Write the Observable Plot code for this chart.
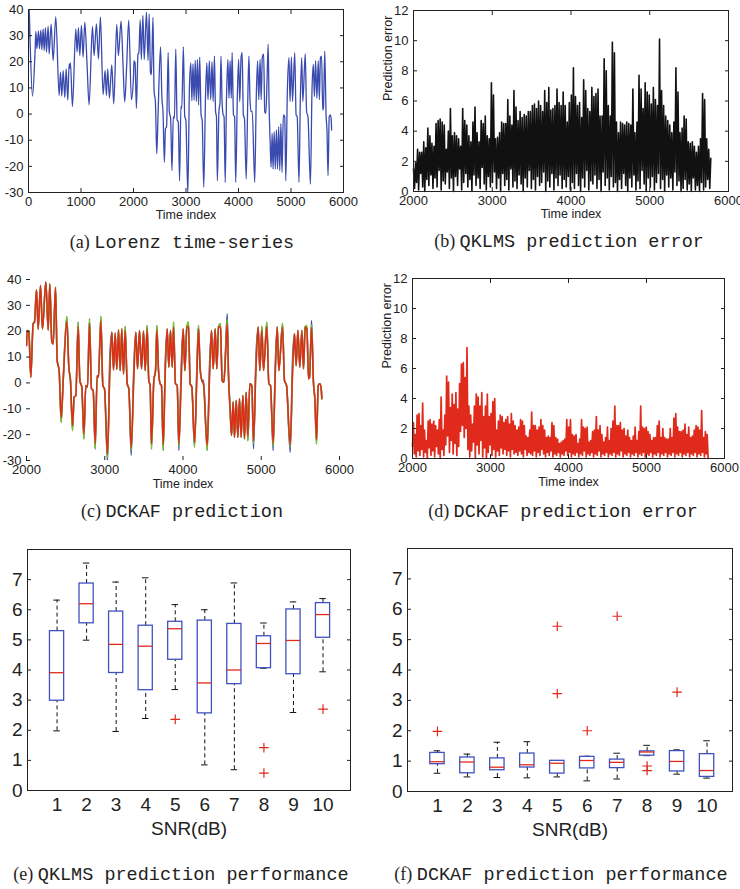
<!DOCTYPE html>
<html>
<head>
<meta charset="utf-8">
<script src="https://cdn.jsdelivr.net/npm/d3@7"></script>
<script src="https://cdn.jsdelivr.net/npm/@observablehq/plot@0.6"></script>
<style>
  html, body { margin: 0; padding: 0; background: #fff; }
  body { position: relative; width: 740px; height: 889px; overflow: hidden; font-family: "Liberation Sans", Arial, sans-serif; }
  .cap { position: absolute; white-space: nowrap; transform: translate(-50%, -50%); color: #222; line-height: 1; }
  .cap .s { font-family: "Liberation Serif", "Times New Roman", serif; font-size: 18px; }
  .cap .m { font-family: "Liberation Mono", "Courier New", monospace; font-size: 18.5px; }
</style>
</head>
<body>
<script>
// ---------- (a)/(c) Lorenz series, part before t = 2000 ----------
const lorT0 = [0,12,30,76,127,140,159,190,209,235,254,279,298,323,342,374,393,431,469,520,583,609,634,660,691,717,748,774,786,799,837,901,926,951,977,1008,1040,1072,1116,1154,1218,1249,1294,1332,1370,1421,1459,1484,1509,1541,1586,1624,1681,1712,1763,1801,1833,1870,1909,1960];
const lorV0 = [29,41,28,6.9,25,31.6,25,31.8,25,32.1,24.7,32.6,24.3,33.1,23.7,33.6,23,34.4,20.5,37.3,7.1,16,6.9,16.7,6.3,17.3,5.4,19.2,17.5,19.6,2.9,32.6,23.7,33.1,22.4,33.9,21.8,35.2,18.6,3.5,33.5,22.4,34.5,21.1,37.1,7.4,16.7,7.1,17.3,6.1,18.8,3.9,34.3,22.4,35.5,18.6,4.6,18.6,35.9,5.5];

// ---------- t >= 2000: actual (blue), second predictor (green), DCKAF (red) ----------
const cT = [2000,2009,2030,2055,2085,2102,2128,2149,2179,2204,2247,2277,2298,2324,2341,2371,2392,2417,2443,2469,2515,2541,2562,2588,2609,2630,2660,2682,2707,2733,2758,2780,2805,2831,2852,2878,2903,2920,2950,2976,2997,3035,3065,3091,3112,3133,3154,3176,3197,3218,3240,3261,3287,3308,3338,3372,3397,3419,3444,3470,3495,3517,3542,3563,3580,3597,3627,3649,3666,3687,3708,3725,3747,3772,3798,3819,3840,3862,3879,3904,3926,3947,3977,4002,4024,4049,4070,4092,4113,4147,4177,4198,4219,4241,4262,4309,4339,4364,4386,4411,4432,4454,4479,4500,4522,4543,4565,4582,4603,4620,4641,4658,4680,4701,4722,4743,4765,4786,4807,4829,4854,4880,4901,4931,4961,4982,5008,5029,5071,5097,5118,5152,5178,5204,5225,5272,5297,5323,5370,5400,5425,5446,5468,5493,5519,5540,5561,5583,5604,5617,5643,5668,5685,5706,5728,5749,5766,5774];
const cBlue = [14.5,20.3,19.6,2.2,22.9,23.5,36,20.9,37.7,20.9,39,20.5,38.3,15.8,15.1,37,8.7,4.8,-15.2,0.9,25.7,6.1,0.9,-18.4,-5.5,-4.9,23.5,0.9,-1.6,-21.6,-1,-1.6,24.8,-2.3,-2.9,-25.5,2.9,2.2,25.7,-1,-2.3,-30.5,10,19.6,5.1,19.2,5.3,20.5,4.8,20.9,3.5,21.8,-0.3,-2.3,-28,7,19.6,5.5,20.3,5.5,20,4.8,22.2,0.9,-1,-25.5,0.9,4.8,22.2,4.8,-0.3,-1,-26.1,6.5,20.9,6.1,20.3,6.1,23.5,-0.3,-1,-26.1,6,20.9,4.8,21.6,23.5,-0.3,-1.6,-24.8,6,22.2,5.5,0.9,1,-26.1,7,20.3,5.5,20.9,5.5,21.8,22.9,0.9,0.3,12.5,26.7,4,-10.7,-20.3,-7.4,-21,-6.8,-21,-6.1,-21,-4.9,-21.6,-3.6,-22.3,-0.3,-1,-25.5,9,21.6,4.8,21.8,4.8,23.5,-0.3,-1,-26.1,6,21.6,4.8,23.1,0.9,-1,-26.8,9,19,6.7,20.3,6.1,20.3,5.5,21.6,22.2,1.6,2.2,24.1,-0.3,-6.1,-23.5,-1,-0.3,-2.3,-6.1];
const cGreen = [14.5,20.3,19.6,2.2,22.9,23.5,36,20.9,37.7,20.9,39,20.5,38.3,15.8,15.1,37,8.7,4.8,-15.2,0.9,25.7,6.1,0.9,-18.4,-5.5,-4.9,23.5,0.9,-1.6,-21.6,-1,-1.6,24.8,-2.3,-2.9,-25.5,2.9,2.2,25.7,-1,-2.3,-29,5,19.6,5.1,19.2,5.3,20.5,4.8,20.9,3.5,21.8,-0.3,-2.3,-26,3,19.6,5.5,20.3,5.5,20,4.8,22.2,0.9,-1,-25.5,0.9,4.8,22.2,4.8,-0.3,-1,-26.1,3.5,20.9,6.1,20.3,6.1,23.5,-0.3,-1,-24.5,2,20.9,4.8,21.6,23.5,-0.3,-1.6,-24.8,3,22.2,5.5,0.9,-0.3,-26.1,3,20.3,5.5,20.9,5.5,21.8,22.9,0.9,0.3,11,24.5,2.2,-10.7,-20.3,-7.4,-21,-6.8,-21,-6.1,-21,-4.9,-21.6,-3.6,-22.3,-0.3,-1,-23.5,5,21.6,4.8,21.8,4.8,23.5,-0.3,-1,-24.5,3,21.6,4.8,23.1,0.9,-1,-25,4.5,19,6.7,20.3,6.1,20.3,5.5,21.6,22.2,1.6,2.2,22.5,-0.3,-6.1,-23.5,-1,-0.3,-2.3,-6.1];
const cRed = [14.5,20.3,19.6,2.2,22.9,23.5,36,20.9,37.7,20.9,39,20.5,38.3,15.8,15.1,37,8.7,4.8,-13.5,0.9,23.8,6.1,0.9,-16.5,-5.5,-4.9,21.8,0.9,-1.6,-19.8,-1,-1.6,23,-2.3,-2.9,-23.5,2.9,2.2,24,-1,-2.3,-27.5,4,19.6,5.1,19.2,5.3,20.5,4.8,20.9,3.5,20.3,-0.3,-2.3,-25,2,19.6,5.5,20.3,5.5,20,4.8,20.8,0.9,-1,-23.5,0.9,4.8,20.5,4.8,-0.3,-1,-24,3,20.9,6.1,20.3,6.1,21.5,-0.3,-1,-23.5,1,20.9,4.8,21.6,21.8,-0.3,-1.6,-23,2,20.8,5.5,0.9,-0.5,-24.2,2,20.3,5.5,20.9,5.5,21.8,21.5,0.9,0.3,10,23,1.5,-10.7,-20.3,-7.4,-21,-6.8,-21,-6.1,-21,-4.9,-21.6,-3.6,-20.8,-0.3,-1,-22.5,4,21.6,4.8,20.5,4.8,21.8,-0.3,-1,-23.5,2,21.6,4.8,21.5,0.9,-1,-24,3.5,19,6.7,20.3,6.1,20.3,5.5,21.6,20.8,1.6,2.2,21.5,-0.3,-6.1,-21.8,-1,-0.3,-2.3,-6.1];

// ---------- (b) QKLMS prediction error: alternating spikes / troughs from t = 2000 to 5775 ----------
const bStart = 2000, bEnd = 5775;
const bErr = [1.5,0.2,1.9,0.6,2.8,0.1,2.6,1.2,2.6,0.3,3.3,0.0,2.9,0.8,4.2,0.4,3.7,1.1,3.2,0.2,3.0,0.9,4.5,0.3,4.7,1.4,4.8,0.1,4.6,0.7,4.4,0.5,2.8,1.3,4.0,0.2,5.5,0.9,3.7,0.0,3.9,1.0,3.7,0.4,3.5,1.5,3.0,0.1,5.5,0.6,4.7,1.2,4.4,0.3,3.7,0.8,3.3,0.0,4.6,1.1,5.6,0.4,3.9,0.9,3.3,0.2,4.7,1.6,4.5,0.5,5.0,0.1,3.7,1.0,3.5,0.3,7.2,0.6,6.4,1.3,3.5,0.2,3.6,0.9,3.9,0.0,4.6,1.2,4.5,0.4,4.5,0.8,6.1,0.1,5.0,1.5,4.4,0.3,6.7,0.7,5.6,0.2,4.7,1.1,5.3,0.5,4.9,0.0,5.1,0.9,5.0,0.3,5.3,1.4,5.3,0.2,5.7,0.8,5.8,0.1,5.5,1.0,6.0,0.4,5.7,0.6,5.3,1.3,6.7,0.0,5.9,0.7,6.9,0.3,5.4,1.2,5.5,0.1,5.7,0.9,6.8,0.4,5.9,1.1,5.7,0.2,6.6,0.8,
5.7,0.3,4.6,1.0,5.9,0.1,6.4,0.6,8.2,0.2,6.3,1.2,5.7,0.4,5.9,0.0,4.9,0.9,7.4,0.3,6.7,1.4,5.5,0.1,5.3,0.7,6.9,0.5,6.3,1.1,6.5,0.2,6.8,0.8,5.0,0.0,5.0,1.3,8.8,0.4,8.0,0.9,5.7,0.1,5.0,1.0,9.9,0.3,9.2,0.6,4.6,0.0,3.9,0.8,4.6,0.2,4.5,1.2,4.4,0.4,4.6,0.0,4.5,0.9,4.4,0.3,6.8,1.1,3.9,0.1,4.6,0.7,7.7,0.2,6.8,1.4,5.5,0.5,7.2,0.0,6.6,0.9,6.4,0.3,5.8,1.0,6.9,0.1,6.1,0.6,5.7,1.2,10.1,0.2,6.7,0.8,5.7,0.0,5.0,1.1,4.7,0.3,4.4,0.9,3.9,0.1,4.6,1.3,8.2,0.4,6.6,0.7,3.9,0.0,4.2,0.2,5.0,0.8,4.8,0.1,3.3,0.5,3.2,0.0,3.3,0.9,3.0,0.1,2.6,0.4,3.0,0.0,3.5,0.6,6.5,0.1,6.1,0.3,3.5,0.8,2.8,0.2,2.2];

// ---------- (d) DCKAF prediction error ----------
const dStart = 2000, dEnd = 5790;
const dErr = [0.8,2.4,0.3,1.6,0.1,2.9,0.5,3.0,0.2,2.2,0.6,3.7,0.1,1.9,0.4,1.2,0.0,2.5,0.7,2.6,0.2,2.3,0.5,2.5,0.1,2.2,0.8,1.9,0.3,2.6,0.0,4.1,0.6,1.9,0.2,2.9,0.9,5.5,1.5,5.1,0.4,3.4,1.2,4.3,0.3,3.6,1.0,4.4,0.2,3.3,0.8,5.0,1.8,6.3,2.2,6.4,1.4,5.4,2.0,7.4,0.6,3.5,0.1,2.9,0.5,2.3,1.1,3.5,0.0,4.3,0.9,4.1,0.3,3.5,1.2,4.4,0.1,2.8,0.7,3.5,0.0,4.3,0.4,2.8,0.9,3.0,0.2,3.8,0.6,4.0,0.1,1.9,0.5,2.5,0.2,2.9,0.7,2.8,0.3,2.4,0.6,2.6,0.2,2.8,0.5,2.3,0.1,3.0,0.6,2.5,0.3,2.2,0.4,1.9,0.2,2.1,0.5,2.6,0.3,2.5,0.1,2.2,0.6,1.5,0.2,1.4,0.4,1.9,0.3,3.1,0.2,2.2,0.5,2.2,0.1,1.9,0.4,2.1,0.2,2.6,0.6,2.2,0.3,1.9,0.1,1.4,0.4,1.5,0.2,1.4,0.5,2.4,0.1,2.2,0.3,1.4,0.2,1.3,0.4,1.0,0.1,1.1,0.3,1.2,0.2,1.3,0.5,2.6,
0.2,2.1,0.4,2.6,0.1,1.6,0.3,1.5,0.2,1.6,0.4,1.0,0.1,1.3,0.3,2.6,0.2,2.1,0.5,2.0,0.1,2.1,0.3,1.1,0.2,1.2,0.4,1.8,0.1,1.9,0.3,2.8,0.2,1.9,0.5,2.2,0.1,1.6,0.3,1.1,0.2,1.4,0.4,2.1,0.1,1.2,0.3,2.0,0.2,2.5,0.4,3.5,0.1,2.2,0.3,2.2,0.2,2.4,0.5,1.9,0.1,2.0,0.3,1.5,0.2,1.9,0.4,1.4,0.1,1.2,0.3,1.5,0.2,2.1,0.4,1.2,0.1,1.8,0.3,3.5,0.2,2.1,0.4,2.0,0.1,2.1,0.3,1.8,0.2,1.6,0.4,1.2,0.1,1.4,0.3,1.4,0.2,2.2,0.4,2.5,0.1,1.4,0.3,2.0,0.2,1.4,0.4,1.3,0.1,1.3,0.3,2.0,0.2,1.4,0.4,2.7,0.1,3.0,0.3,2.1,0.2,1.8,0.4,1.8,0.1,1.9,0.3,2.3,0.2,1.6,0.4,2.1,0.1,1.4,0.3,1.5,0.2,1.9,0.4,2.2,0.1,2.1,0.3,1.9,0.2,3.2,0.4,1.4,0.1,1.8,0.3,1.6,0.0];

// ---------- (e) QKLMS box statistics per SNR ----------
const snr = [1,2,3,4,5,6,7,8,9,10];
const qLow  = [1.98,4.99,1.96,2.39,3.35,0.85,0.69,4.06,2.59,3.94];
const qQ1   = [2.98,5.55,3.90,3.33,4.34,2.56,3.53,4.06,3.86,5.07];
const qMed  = [3.91,6.20,4.85,4.79,5.37,3.57,4.00,4.88,4.98,5.84];
const qQ3   = [5.29,6.87,5.94,5.47,5.60,5.64,5.53,5.12,6.01,6.22];
const qHigh = [6.32,7.55,6.92,7.06,6.17,6.00,6.89,5.56,6.26,6.37];
const qOutSnr = [5,8,8,10];
const qOutVal = [2.36,1.42,0.58,2.70];

// ---------- (f) DCKAF box statistics per SNR ----------
const dLow  = [0.60,0.48,0.46,0.45,0.48,0.35,0.41,1.18,0.57,0.44];
const dQ1   = [0.90,0.60,0.70,0.79,0.59,0.76,0.77,1.18,0.66,0.48];
const dMed  = [0.98,0.97,0.80,0.88,0.93,1.02,0.96,1.30,0.99,0.69];
const dQ3   = [1.27,1.12,1.09,1.25,1.01,1.14,1.05,1.32,1.33,1.23];
const dHigh = [1.34,1.23,1.62,1.64,1.01,1.16,1.26,1.52,1.37,1.67];
const dOutSnr = [1,5,5,6,7,8,8,9];
const dOutVal = [1.98,5.44,3.22,2.00,5.77,0.84,0.69,3.27];

// ---------- tick values ----------
const ticksA_X = [0,1000,2000,3000,4000,5000,6000];
const ticksTS_X = [2000,3000,4000,5000,6000];
const ticksLor_Y = [-30,-20,-10,0,10,20,30,40];
const ticksErr_Y = [0,2,4,6,8,10,12];
const ticksBox_Y = [0,1,2,3,4,5,6,7];

// ---------- styling ----------
const BLUE = "#3a4bb0", GREEN = "#7bcc18", RED = "#e02b1c", INK = "#222";
const FS = 13;
const plain = d => `${d}`;

function place(el, left, top) {
  const d = document.createElement("div");
  d.style.cssText = `position:absolute;left:${left}px;top:${top}px;`;
  d.append(el);
  document.body.append(d);
}
function caption(letter, text, cx, cy) {
  const d = document.createElement("div");
  d.className = "cap";
  d.style.left = cx + "px"; d.style.top = cy + "px";
  d.innerHTML = `<span class="s">(${letter})</span> <span class="m">${text}</span>`;
  document.body.append(d);
}
function boxAxes(xt, yt, fs, frame = true) {
  const m = [
    Plot.axisX(xt, {anchor: "bottom", tickSize: -4, tickPadding: 8, fontSize: fs, tickFormat: plain, label: null, line: !frame}),
    Plot.axisY(yt, {anchor: "left", tickSize: -4, tickPadding: 9, fontSize: fs, tickFormat: plain, label: null, line: !frame})
  ];
  if (frame) {
    m.push(Plot.axisX(xt, {anchor: "top", tickSize: -4, tickFormat: () => "", label: null}));
    m.push(Plot.axisY(yt, {anchor: "right", tickSize: -4, tickFormat: () => "", label: null}));
    m.push(Plot.frame({stroke: INK}));
  }
  return m;
}
const baseStyle = {fontFamily: "'Liberation Sans', Arial, sans-serif", fontSize: FS + "px", color: INK, background: "transparent", overflow: "visible"};

// ---------- (a) ----------
const lorenz = lorT0.map((t, i) => ({t, v: lorV0[i]})).concat(cT.map((t, i) => ({t, v: cBlue[i]})));
place(Plot.plot({
  width: 370, height: 225, marginLeft: 28, marginRight: 27, marginTop: 9, marginBottom: 33,
  style: baseStyle,
  x: {domain: [0, 6000]}, y: {domain: [-30, 40]},
  marks: [
    Plot.line(lorenz, {x: "t", y: "v", stroke: BLUE, strokeWidth: 1.3, curve: "monotone-x", clip: true}),
    ...boxAxes(ticksA_X, ticksLor_Y, FS),
    Plot.text(["Time index"], {frameAnchor: "bottom", dy: 22, lineAnchor: "middle", fontSize: 12.5, fill: INK})
  ]
}), 0, 0);
caption("a", "Lorenz time-series", 182, 243);

// ---------- (b) ----------
const bData = bErr.map((v, i) => ({t: bStart + i * (bEnd - bStart) / (bErr.length - 1), v}));
place(Plot.plot({
  width: 370, height: 225, marginLeft: 43, marginRight: 12, marginTop: 10, marginBottom: 34,
  style: baseStyle,
  x: {domain: [2000, 6000]}, y: {domain: [0, 12]},
  marks: [
    Plot.line(bData, {x: "t", y: "v", stroke: "#111", strokeWidth: 1.6}),
    ...boxAxes(ticksTS_X, ticksErr_Y, FS),
    Plot.text(["Time index"], {frameAnchor: "bottom", dy: 22, lineAnchor: "middle", fontSize: 12.5, fill: INK}),
    Plot.text(["Prediction error"], {frameAnchor: "left", dx: -26, rotate: -90, fontSize: 12.5, fill: INK})
  ]
}), 370, 0);
caption("b", "QKLMS prediction error", 569, 242);

// ---------- (c) ----------
const cData = cT.map((t, i) => ({t, blue: cBlue[i], green: cGreen[i], red: cRed[i]}));
place(Plot.plot({
  width: 370, height: 225, marginLeft: 26, marginRight: 31, marginTop: 19, marginBottom: 25,
  style: baseStyle,
  x: {domain: [2000, 6000]}, y: {domain: [-30, 40]},
  marks: [
    Plot.line(cData, {x: "t", y: "blue", stroke: BLUE, strokeWidth: 1.5, curve: "monotone-x", clip: true}),
    Plot.line(cData, {x: "t", y: "green", stroke: GREEN, strokeWidth: 1.6, curve: "monotone-x", clip: true}),
    Plot.line(cData, {x: "t", y: "red", stroke: RED, strokeWidth: 1.5, curve: "monotone-x", clip: true}),
    ...boxAxes(ticksTS_X, ticksLor_Y, FS, false),
    Plot.text(["Time index"], {frameAnchor: "bottom", dy: 23, lineAnchor: "middle", fontSize: 12.5, fill: INK})
  ]
}), 0, 260);
caption("c", "DCKAF prediction", 182, 512);

// ---------- (d) ----------
const dData = dErr.map((v, i) => ({t: dStart + i * (dEnd - dStart) / (dErr.length - 1), v}));
place(Plot.plot({
  width: 370, height: 225, marginLeft: 42, marginRight: 16, marginTop: 18, marginBottom: 27,
  style: baseStyle,
  x: {domain: [2000, 6000]}, y: {domain: [0, 12]},
  marks: [
    Plot.line(dData, {x: "t", y: "v", stroke: RED, strokeWidth: 1.7}),
    ...boxAxes(ticksTS_X, ticksErr_Y, FS),
    Plot.text(["Time index"], {frameAnchor: "bottom", dy: 23, lineAnchor: "middle", fontSize: 12.5, fill: INK}),
    Plot.text(["Prediction error"], {frameAnchor: "left", dx: -26, rotate: -90, fontSize: 12.5, fill: INK})
  ]
}), 370, 260);
caption("d", "DCKAF prediction error", 563, 512);

// ---------- box plots ----------
function boxPlot({low, q1, med, q3, high, outS, outV, xMax, ml, mr, mt, mb}) {
  const rows = snr.map((s, i) => ({s, low: low[i], q1: q1[i], med: med[i], q3: q3[i], high: high[i]}));
  const outs = outS.map((s, i) => ({s, v: outV[i]}));
  const HW = 0.24, CW = 0.11;
  return Plot.plot({
    width: 370, height: 315, marginLeft: ml, marginRight: mr, marginTop: mt, marginBottom: mb,
    style: {...baseStyle, fontSize: "19px"},
    x: {domain: [0, xMax]}, y: {domain: [0, 8]},
    marks: [
      Plot.ruleX(rows, {x: "s", y1: "q3", y2: "high", stroke: "#111", strokeDasharray: "4,3"}),
      Plot.ruleX(rows, {x: "s", y1: "low", y2: "q1", stroke: "#111", strokeDasharray: "4,3"}),
      Plot.ruleY(rows, {y: "high", x1: d => d.s - CW, x2: d => d.s + CW, stroke: "#111"}),
      Plot.ruleY(rows, {y: "low", x1: d => d.s - CW, x2: d => d.s + CW, stroke: "#111"}),
      Plot.rect(rows, {x1: d => d.s - HW, x2: d => d.s + HW, y1: "q1", y2: "q3", fill: "white", stroke: "#3f52c0", strokeWidth: 1.3}),
      Plot.ruleY(rows, {y: "med", x1: d => d.s - HW, x2: d => d.s + HW, stroke: RED, strokeWidth: 1.3}),
      Plot.dot(outs, {x: "s", y: "v", symbol: "plus", r: 3.2, stroke: RED, strokeWidth: 1.2}),
      Plot.axisX(snr, {anchor: "bottom", tickSize: 0, tickPadding: 7, fontSize: 19, tickFormat: plain, label: null}),
      Plot.axisY(ticksBox_Y, {anchor: "left", tickSize: -4, tickPadding: 9, fontSize: 19, tickFormat: plain, label: null}),
      Plot.axisY(ticksBox_Y, {anchor: "right", tickSize: -4, tickFormat: () => "", label: null}),
      Plot.frame({stroke: INK}),
      Plot.text(["SNR(dB)"], {frameAnchor: "bottom", dy: 38, lineAnchor: "middle", fontSize: 19, fill: INK})
    ]
  });
}
place(boxPlot({low: qLow, q1: qQ1, med: qMed, q3: qQ3, high: qHigh, outS: qOutSnr, outV: qOutVal, xMax: 10.93, ml: 27, mr: 20, mt: 19, mb: 55}), 0, 530);
caption("e", "QKLMS prediction performance", 181, 875);
place(boxPlot({low: dLow, q1: dQ1, med: dMed, q3: dQ3, high: dHigh, outS: dOutSnr, outV: dOutVal, xMax: 10.85, ml: 37, mr: 8, mt: 18, mb: 54}), 370, 530);
caption("f", "DCKAF prediction performance", 561, 875);
</script>
</body>
</html>
